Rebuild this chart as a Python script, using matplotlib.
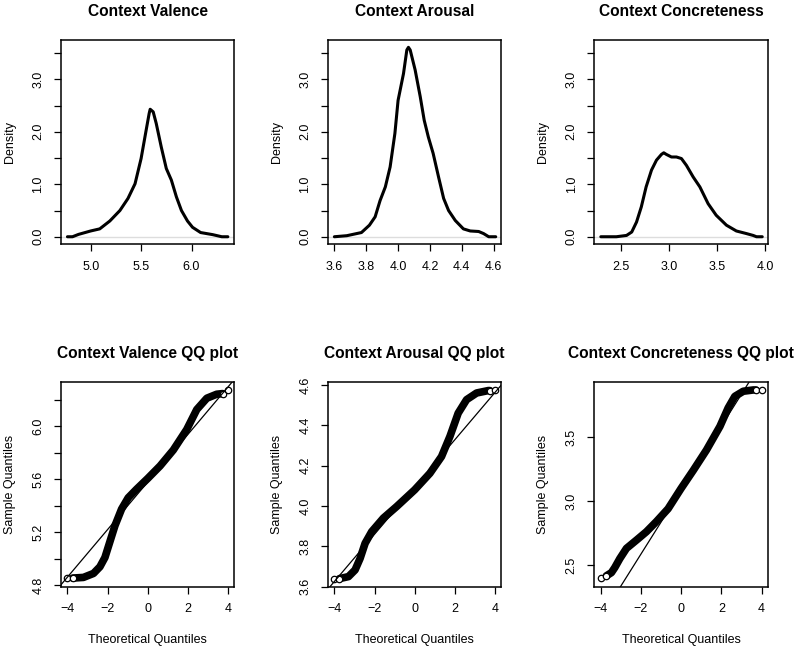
import matplotlib
matplotlib.use("Agg")
import matplotlib.pyplot as plt
import numpy as np

plt.rcParams['font.family'] = ['Liberation Sans', 'DejaVu Sans']

# ---------------- data ----------------
titles_top = ["Context Valence", "Context Arousal", "Context Concreteness"]
titles_bot = ["Context Valence QQ plot", "Context Arousal QQ plot", "Context Concreteness QQ plot"]

val_x = [4.77, 4.82, 4.88, 5.00, 5.09, 5.19, 5.29, 5.37, 5.44, 5.50, 5.55, 5.58, 5.59, 5.62,
         5.65, 5.70, 5.75, 5.80, 5.85, 5.90, 5.96, 6.01, 6.09, 6.21, 6.30, 6.36]
val_d = [0.0, 0.0, 0.045, 0.11, 0.15, 0.30, 0.50, 0.73, 1.01, 1.49, 2.03, 2.35, 2.43, 2.38,
         2.16, 1.71, 1.30, 1.08, 0.76, 0.50, 0.30, 0.18, 0.08, 0.04, 0.0, 0.0]

aro_x = [3.60, 3.678, 3.77, 3.82, 3.856, 3.887, 3.92, 3.95, 3.98, 4.00, 4.034, 4.055, 4.065,
         4.076, 4.107, 4.139, 4.164, 4.19, 4.22, 4.254, 4.286, 4.317, 4.359, 4.41, 4.453,
         4.506, 4.537, 4.569, 4.613]
aro_d = [0.0, 0.02, 0.08, 0.22, 0.38, 0.69, 0.95, 1.33, 1.97, 2.60, 3.11, 3.56, 3.61,
         3.56, 3.18, 2.67, 2.22, 1.90, 1.59, 1.14, 0.73, 0.50, 0.31, 0.15, 0.11,
         0.10, 0.06, 0.0, 0.0]

con_x = [2.288, 2.45, 2.556, 2.61, 2.66, 2.71, 2.76, 2.816, 2.868, 2.92, 2.944, 2.97, 3.024,
         3.076, 3.128, 3.18, 3.25, 3.32, 3.406, 3.49, 3.597, 3.70, 3.806, 3.875, 3.91, 3.97]
con_d = [0.0, 0.0, 0.025, 0.09, 0.28, 0.57, 0.95, 1.27, 1.46, 1.57, 1.60, 1.57, 1.52,
         1.52, 1.49, 1.36, 1.14, 0.95, 0.63, 0.41, 0.22, 0.11, 0.06, 0.025, 0.0, 0.0]

# QQ: theoretical vs sample quantiles
qv_t = [-4.0, -3.74, -3.2, -2.7, -2.38, -2.13, -1.88, -1.63, -1.3, -0.97, -0.55, 0.0,
        0.62, 1.28, 1.95, 2.45, 2.95, 3.44, 3.74, 4.0]
qv_s = [4.855, 4.855, 4.86, 4.89, 4.94, 5.01, 5.13, 5.25, 5.375, 5.46, 5.525, 5.605,
        5.70, 5.82, 5.975, 6.125, 6.21, 6.24, 6.245, 6.27]
qv_line = (5.578, 0.179)  # intercept, slope

qa_t = [-4.0, -3.75, -3.3, -2.97, -2.72, -2.47, -2.14, -1.56, -0.9, 0.0, 0.76, 1.34,
        1.76, 2.17, 2.59, 3.09, 3.67, 3.75, 4.0]
qa_s = [3.64, 3.64, 3.65, 3.683, 3.74, 3.815, 3.873, 3.94, 3.997, 4.08, 4.162, 4.245,
        4.345, 4.46, 4.527, 4.56, 4.572, 4.572, 4.576]
qa_line = (4.094, 0.117)

qc_t = [-4.0, -3.72, -3.47, -3.3, -3.05, -2.72, -2.22, -1.73, -1.23, -0.65, 0.0, 0.6,
        1.26, 1.93, 2.34, 2.67, 3.09, 3.59, 3.72, 4.0]
qc_s = [2.40, 2.415, 2.44, 2.48, 2.55, 2.63, 2.695, 2.76, 2.84, 2.94, 3.10, 3.24,
        3.40, 3.585, 3.73, 3.82, 3.86, 3.87, 3.87, 3.87]
qc_line = (3.086, 0.2504)

# ---------------- layout ----------------
W, H = 800, 649
fig = plt.figure(figsize=(W / 100, H / 100), dpi=100)

lefts = [61, 328, 594.3]
widths = [173.3, 173.3, 173.7]
top_row = (40.3, 244.3)
bot_row = (382.3, 586.7)

def make_ax(i, row):
    t, b = row
    return fig.add_axes([lefts[i] / W, 1 - b / H, widths[i] / W, (b - t) / H])

def style(ax, title, wpx, hpx):
    for s in ax.spines.values():
        s.set_linewidth(1.1)
    ax.tick_params(direction='out', length=5, width=0.9, pad=7, labelsize=9, color='black')
    ax.tick_params(axis='y', labelrotation=90)
    for lab in ax.get_yticklabels():
        lab.set_va('center')
    ax.text(0.5, 1 + 29 / hpx, title, transform=ax.transAxes, ha='center', va='center',
            fontsize=11.2, fontweight='bold')

dens = [(val_x, val_d, (4.706, 6.424), [5.0, 5.5, 6.0]),
        (aro_x, aro_d, (3.56, 4.648), [3.6, 3.8, 4.0, 4.2, 4.4, 4.6]),
        (con_x, con_d, (2.22, 4.03), [2.5, 3.0, 3.5, 4.0])]

for i, (x, d, xl, xt) in enumerate(dens):
    ax = make_ax(i, top_row)
    ax.axhline(0, color='#dddddd', lw=1.0, zorder=1)
    ax.plot(x, d, color='black', lw=2.2, solid_joinstyle='round', solid_capstyle='round', zorder=2)
    ax.set_xlim(*xl)
    ax.set_ylim(-0.144, 3.744)
    ax.set_xticks(xt)
    ax.set_xticklabels([f"{v:.1f}" for v in xt])
    yt = [0, 0.5, 1, 1.5, 2, 2.5, 3, 3.5]
    ax.set_yticks(yt)
    ax.set_yticklabels([f"{v:.1f}" if v in (0, 1, 2, 3) else "" for v in yt])
    style(ax, titles_top[i], widths[i], top_row[1] - top_row[0])
    ax.set_ylabel("Density", fontsize=9, va='center')
    ax.yaxis.set_label_coords(-51 / widths[i], 0.5)

qq = [(qv_t, qv_s, qv_line, (4.79, 6.33), [4.8, 5.0, 5.2, 5.4, 5.6, 5.8, 6.0, 6.2],
       ["4.8", "", "5.2", "", "5.6", "", "6.0", ""]),
      (qa_t, qa_s, qa_line, (3.6, 4.613), [3.6, 3.8, 4.0, 4.2, 4.4, 4.6],
       ["3.6", "3.8", "4.0", "4.2", "4.4", "4.6"]),
      (qc_t, qc_s, qc_line, (2.33, 3.93), [2.5, 3.0, 3.5], ["2.5", "3.0", "3.5"])]

for i, (t, s, (b0, b1), yl, yt, ytl) in enumerate(qq):
    ax = make_ax(i, bot_row)
    ax.plot(t[1:-1], s[1:-1], color='black', lw=5.5, solid_capstyle='round',
            solid_joinstyle='round', zorder=2)
    ax.plot([t[0], t[1], t[-2], t[-1]], [s[0], s[1], s[-2], s[-1]], 'o', ms=4.6,
            mfc='white', mec='black', mew=0.9, zorder=3)
    ax.axline((0, b0), slope=b1, color='black', lw=0.9, zorder=4)
    ax.set_xlim(-4.32, 4.32)
    ax.set_ylim(*yl)
    ax.set_xticks([-4, -2, 0, 2, 4])
    ax.set_yticks(yt)
    ax.set_yticklabels(ytl)
    style(ax, titles_bot[i], widths[i], bot_row[1] - bot_row[0])
    ax.set_ylabel("Sample Quantiles", fontsize=9, va='center')
    ax.yaxis.set_label_coords(-51 / widths[i], 0.5)
    ax.set_xlabel("Theoretical Quantiles", fontsize=9, va='center')
    ax.xaxis.set_label_coords(0.5, -53 / (bot_row[1] - bot_row[0]))

fig.savefig("out.png", dpi=100)
